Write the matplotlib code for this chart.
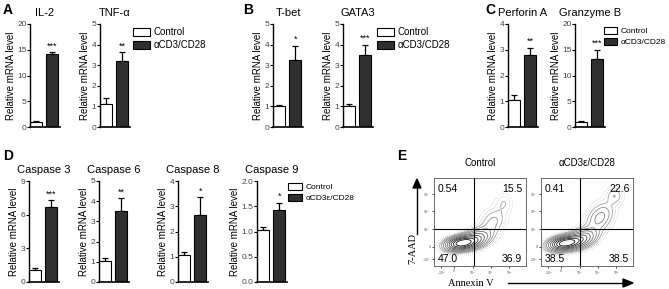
import numpy as np
import matplotlib.pyplot as plt
from matplotlib.patches import Patch

plt.rcParams['font.family'] = ['Liberation Sans', 'DejaVu Sans']

W, H = 669, 289

# ---- bar panel data (control, treated) ----
genes = ['IL-2', 'TNF-α', 'T-bet', 'GATA3', 'Perforin A', 'Granzyme B',
         'Caspase 3', 'Caspase 6', 'Caspase 8', 'Caspase 9']
ctrl_mean = [1.0, 1.1, 1.0, 1.0, 1.05, 1.0, 1.1, 1.05, 1.05, 1.02]
ctrl_err = [0.08, 0.3, 0.05, 0.12, 0.2, 0.15, 0.15, 0.12, 0.12, 0.06]
trt_mean = [14.2, 3.2, 3.25, 3.5, 2.8, 13.2, 6.7, 3.5, 2.65, 1.42]
trt_err = [0.4, 0.45, 0.7, 0.5, 0.28, 1.8, 0.6, 0.65, 0.7, 0.15]
stars = ['***', '**', '*', '***', '**', '***', '***', '**', '*', '*']
ymax = [20, 5, 5, 5, 4, 20, 9, 5, 4, 2.0]
ystep = [5, 1, 1, 1, 1, 5, 3, 1, 1, 0.5]

# ---- flow plot data: quadrant percentages and density blobs ----
quad_ctrl = ['0.54', '15.5', '47.0', '36.9']
quad_trt = ['0.41', '22.6', '38.5', '38.5']
# blobs: (x, y, sx, sy, angle deg, weight) in axes-fraction units
blobs_ctrl = [(0.30, 0.26, 0.10, 0.045, 10, 1.0),
              (0.46, 0.31, 0.10, 0.06, 20, 0.35),
              (0.64, 0.50, 0.08, 0.11, -35, 0.10),
              (0.76, 0.72, 0.06, 0.07, 0, 0.05)]
blobs_trt = [(0.26, 0.26, 0.10, 0.045, 10, 1.0),
             (0.44, 0.31, 0.10, 0.06, 20, 0.40),
             (0.64, 0.55, 0.08, 0.12, -35, 0.15),
             (0.80, 0.80, 0.06, 0.06, 0, 0.08)]

# pixel layout
spine_x = [30, 100, 273, 343, 508, 575, 29, 99, 178, 257]
row_top = [24, 24, 24, 24, 24, 24, 181, 181, 181, 181]
row_bot = [127, 127, 127, 127, 127, 127, 282, 282, 282, 282]
ax_w = 30

fig = plt.figure(figsize=(W / 100, H / 100), dpi=100)


def px_axes(x0, ytop, w, ybot):
    return fig.add_axes([x0 / W, 1 - ybot / H, w / W, (ybot - ytop) / H])


for i, g in enumerate(genes):
    ax = px_axes(spine_x[i], row_top[i], ax_w, row_bot[i])
    ax.bar([0, 1], [ctrl_mean[i], trt_mean[i]], width=0.75,
           color=['white', '#303030'], edgecolor='black', linewidth=0.8, zorder=2)
    for xx, m, e in [(0, ctrl_mean[i], ctrl_err[i]), (1, trt_mean[i], trt_err[i])]:
        ax.errorbar(xx, m, yerr=[[0], [e]], color='black', capsize=2.5,
                    elinewidth=0.9, capthick=0.9, zorder=1)
    ax.text(1, trt_mean[i] + trt_err[i] + ymax[i] * 0.015, stars[i],
            ha='center', va='bottom', fontsize=6.5)
    ax.set_xlim(-0.4, 1.5)
    ax.set_ylim(0, ymax[i])
    ticks = np.arange(0, ymax[i] + 1e-9, ystep[i])
    ax.set_yticks(ticks)
    if ystep[i] < 1:
        ax.set_yticklabels([f'{t:.1f}' for t in ticks])
    ax.set_xticks([])
    for s in ['top', 'right']:
        ax.spines[s].set_visible(False)
    ax.spines['left'].set_linewidth(1.0)
    ax.spines['bottom'].set_linewidth(1.2)
    ax.tick_params(axis='y', length=2, width=0.8, pad=0.5, labelsize=6,
                   labelcolor='#444')
    ax.set_ylabel('Relative mRNA level', fontsize=7, labelpad=1)
    ax.set_title(g, fontsize=8, pad=6)

# legends
for bx, by, lab, fs, hl in [(133, 27, 'αCD3/CD28', 7, 1.7), (377, 27, 'αCD3/CD28', 7, 1.7),
                            (604, 27, 'αCD3/CD28', 6, 1.5), (288, 183, 'αCD3ε/CD28', 6, 1.7)]:
    handles = [Patch(facecolor='white', edgecolor='black', linewidth=0.8, label='Control'),
               Patch(facecolor='#303030', edgecolor='black', linewidth=0.8, label=lab)]
    fig.legend(handles=handles, loc='upper left', bbox_to_anchor=(bx / W, 1 - by / H),
               frameon=False, fontsize=fs, handlelength=hl, handleheight=0.9,
               handletextpad=0.45, labelspacing=0.3, borderpad=0, borderaxespad=0)

# panel letters
for lx, ly, L in [(3, 3, 'A'), (243, 3, 'B'), (485, 3, 'C'), (3, 149, 'D'), (397, 149, 'E')]:
    fig.text(lx / W, 1 - ly / H, L, fontsize=10, fontweight='bold', va='top', ha='left')

# ---- flow cytometry contour plots ----
gx, gy = np.meshgrid(np.linspace(0, 1, 200), np.linspace(0, 1, 200))


def density(blobs):
    z = np.zeros_like(gx)
    for cx, cy, sx, sy, ang, w in blobs:
        a = np.deg2rad(ang)
        dx, dy = gx - cx, gy - cy
        u = dx * np.cos(a) + dy * np.sin(a)
        v = -dx * np.sin(a) + dy * np.cos(a)
        z += w * np.exp(-0.5 * ((u / sx) ** 2 + (v / sy) ** 2))
    return z / z.max()


flow = [(434, 'Control', quad_ctrl, blobs_ctrl, 0.44),
        (541, 'αCD3ε/CD28', quad_trt, blobs_trt, 0.42)]
levels = [0.015, 0.03, 0.05, 0.08, 0.12, 0.18, 0.26, 0.36, 0.48, 0.62, 0.78]
lcolors = plt.cm.Greys(np.linspace(0.35, 1.0, len(levels)))
lstyles = [':', ':'] + ['-'] * (len(levels) - 2)
for x0, title, quads, blobs, qx in flow:
    ax = px_axes(x0, 178, 92, 266)
    z = density(blobs)
    ax.contour(gx, gy, z, levels=levels, colors=lcolors, linewidths=0.55,
               linestyles=lstyles)
    ax.axvline(qx, color='black', lw=0.8)
    ax.axhline(0.42, color='black', lw=0.8)
    ax.set_xlim(0, 1)
    ax.set_ylim(0, 1)
    for s in ax.spines.values():
        s.set_linewidth(0.6)
        s.set_color('#555')
    tk = [0.08, 0.22, 0.42, 0.62, 0.82]
    tl = ['-10$^3$', '0', '10$^3$', '10$^4$', '10$^5$']
    ax.set_xticks(tk)
    ax.set_xticklabels(tl)
    ax.set_yticks(tk)
    ax.set_yticklabels(tl)
    ax.tick_params(length=1.5, width=0.5, labelsize=2.5, pad=1, labelcolor='#555')
    ax.set_title(title, fontsize=7, pad=9)
    kw = dict(fontsize=7.5, transform=ax.transAxes)
    ax.text(0.04, 0.93, quads[0], ha='left', va='top', **kw)
    ax.text(0.96, 0.93, quads[1], ha='right', va='top', **kw)
    ax.text(0.04, 0.02, quads[2], ha='left', va='bottom', **kw)
    ax.text(0.96, 0.02, quads[3], ha='right', va='bottom', **kw)

# axis labels with arrows for panel E
fig.text(413 / W, 1 - 248 / H, '7-AAD', rotation=90, fontsize=7.5, va='center', ha='center',
         family=['Liberation Serif', 'DejaVu Serif'])
fig.add_artist(plt.Line2D([417 / W, 417 / W], [1 - 234 / H, 1 - 186 / H], color='black', lw=1.0))
fig.patches.append(plt.Polygon([[413 / W, 1 - 188 / H], [421 / W, 1 - 188 / H], [417 / W, 1 - 179 / H]],
                               closed=True, color='black', transform=fig.transFigure))
fig.text(471 / W, 1 - 283 / H, 'Annexin V', fontsize=7.5, va='center', ha='center',
         family=['Liberation Serif', 'DejaVu Serif'])
fig.add_artist(plt.Line2D([508 / W, 624 / W], [1 - 283 / H, 1 - 283 / H], color='black', lw=1.0))
fig.patches.append(plt.Polygon([[623 / W, 1 - 279 / H], [623 / W, 1 - 287 / H], [633 / W, 1 - 283 / H]],
                               closed=True, color='black', transform=fig.transFigure))

fig.savefig('out.png', dpi=100)
